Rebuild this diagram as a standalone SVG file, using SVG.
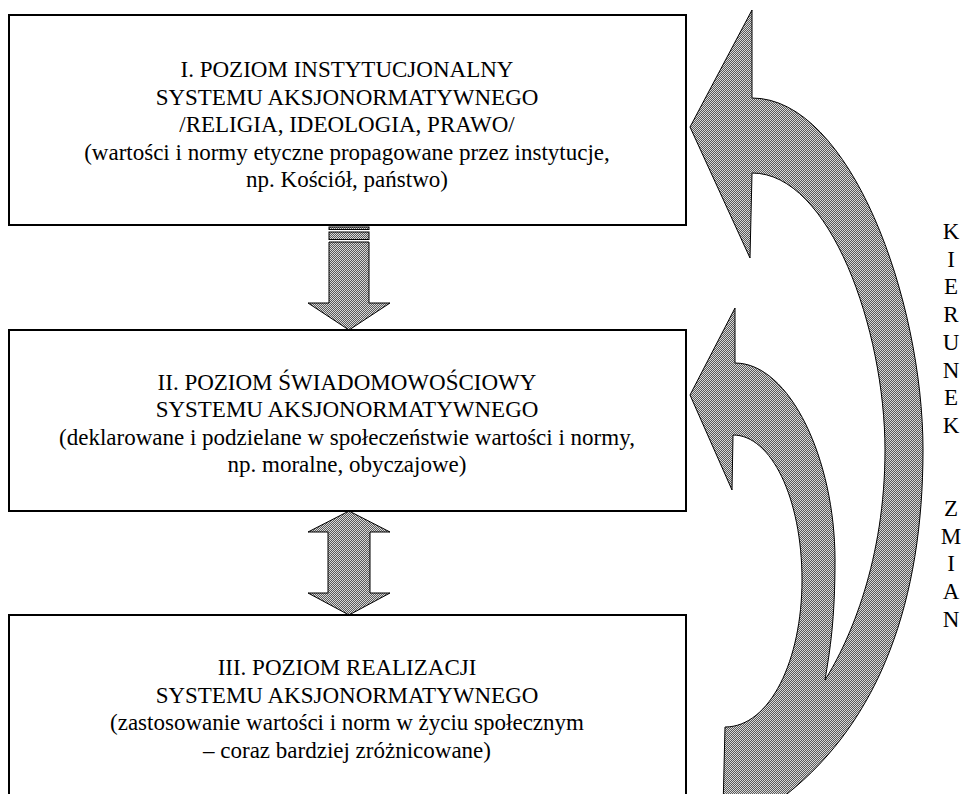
<svg xmlns="http://www.w3.org/2000/svg" width="964" height="794" viewBox="0 0 964 794">
<defs>
<pattern id="dots" width="2" height="2" patternUnits="userSpaceOnUse">
<rect width="2" height="2" fill="#5a5a5a"/>
<rect x="0" y="0" width="1" height="1" fill="#d8d8d8"/>
<rect x="1" y="1" width="1" height="1" fill="#d8d8d8"/>
</pattern>
</defs>
<style>
.box{fill:#fff;stroke:#000;stroke-width:2}
.t{font-family:"Liberation Serif","Times New Roman",serif;font-size:23px;fill:#000;text-anchor:middle}
.arr{fill:url(#dots);stroke:#000;stroke-width:1;stroke-linejoin:miter}
</style>
<rect width="964" height="794" fill="#fff"/>
<g id="connectors">
<g id="arrow-1-2">
<rect class="arr" x="329" y="227" width="40" height="2.5"/>
<rect class="arr" x="329" y="232" width="40" height="7.5"/>
<path class="arr" d="M329,242 H369 V303 H390 L349,330 L308,303 H329 Z"/>
</g>
<path id="arrow-2-3" class="arr" d="M349,511 L390,532 H370 V593 H390 L349,615 L308,593 H328 V532 H308 Z"/>
<path id="curved-arrows" class="arr" d="M690,127 L752,10 L752,98 C850,98 923,300 923,450 C923,600 880,720 787,794 L770,810 L723,810 L725,727 C770,727 802,660 802,580 C802,498 771,435 733,435 L732,490 L690,395 L735,308 L735,363 C790,363 835,460 835,560 C835,620 830,650 825,680 C850,640 885,560 885,450 C885,330 830,173 752,173 L750,258 Z"/>
</g>
<g id="node-1">
<rect class="box" x="9" y="15" width="677" height="210"/>
<text class="t" x="347" y="77">I. POZIOM INSTYTUCJONALNY</text>
<text class="t" x="347" y="104.5">SYSTEMU AKSJONORMATYWNEGO</text>
<text class="t" x="347" y="132">/RELIGIA, IDEOLOGIA, PRAWO/</text>
<text class="t" x="347" y="159.5">(wartości i normy etyczne propagowane przez instytucje,</text>
<text class="t" x="347" y="187">np. Kościół, państwo)</text>
</g>
<g id="node-2">
<rect class="box" x="9" y="330" width="677" height="181"/>
<text class="t" x="347" y="389.5">II. POZIOM ŚWIADOMOWOŚCIOWY</text>
<text class="t" x="347" y="417">SYSTEMU AKSJONORMATYWNEGO</text>
<text class="t" x="347" y="444.5">(deklarowane i podzielane w społeczeństwie wartości i normy,</text>
<text class="t" x="347" y="472">np. moralne, obyczajowe)</text>
</g>
<g id="node-3">
<rect class="box" x="9" y="615" width="677" height="200"/>
<text class="t" x="347" y="675">III. POZIOM REALIZACJI</text>
<text class="t" x="347" y="702.5">SYSTEMU AKSJONORMATYWNEGO</text>
<text class="t" x="347" y="730">(zastosowanie wartości i norm w życiu społecznym</text>
<text class="t" x="347" y="757.5">– coraz bardziej zróżnicowane)</text>
</g>
<g id="label-kierunek-zmian">
<text class="t" x="951" y="239">K</text>
<text class="t" x="951" y="266.7">I</text>
<text class="t" x="951" y="294.4">E</text>
<text class="t" x="951" y="322.1">R</text>
<text class="t" x="951" y="349.8">U</text>
<text class="t" x="951" y="377.5">N</text>
<text class="t" x="951" y="405.2">E</text>
<text class="t" x="951" y="433">K</text>
<text class="t" x="951" y="516">Z</text>
<text class="t" x="951" y="543.7">M</text>
<text class="t" x="951" y="571.4">I</text>
<text class="t" x="951" y="599.1">A</text>
<text class="t" x="951" y="626.8">N</text>
</g>
</svg>
